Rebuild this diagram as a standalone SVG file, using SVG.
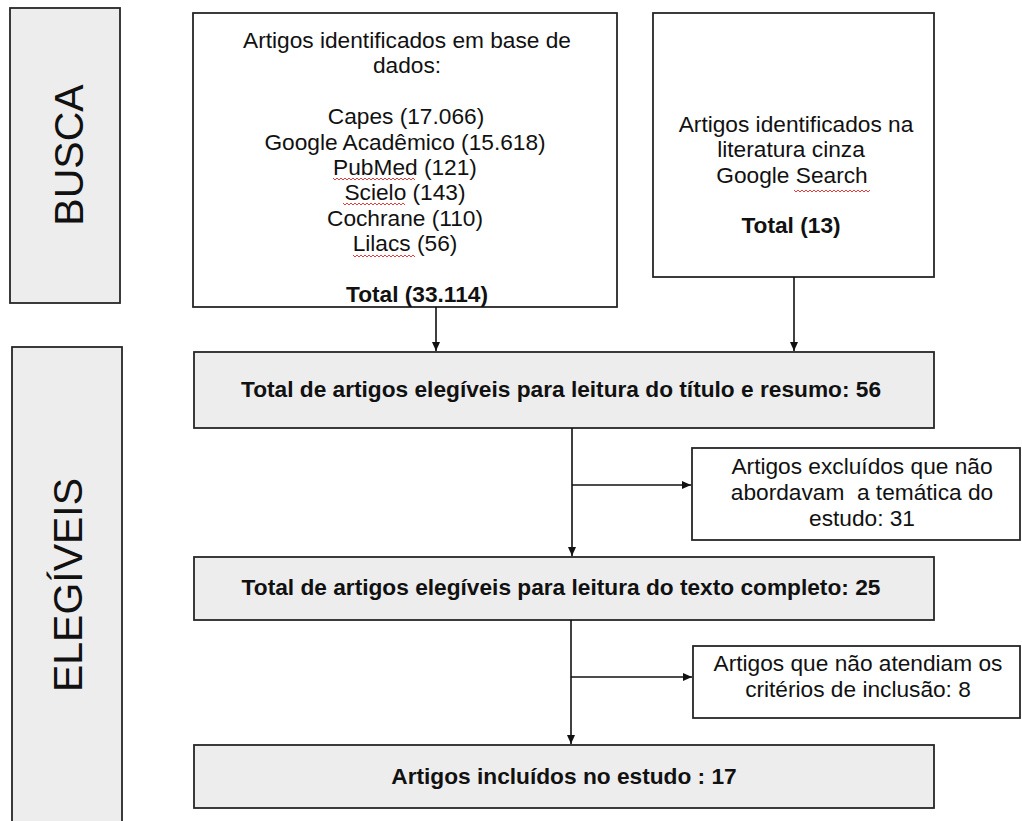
<svg xmlns="http://www.w3.org/2000/svg" width="1022" height="821" viewBox="0 0 1022 821">
<defs>
<style>
.box{stroke:#262626;stroke-width:1.8;}
.grey{fill:#EDEDED;}
.white{fill:#FFFFFF;}
.t{font-family:"Liberation Sans",Arial,sans-serif;font-size:22.7px;fill:#111;text-anchor:middle;}
.b{font-weight:bold;}
.lab{font-family:"Liberation Sans",Arial,sans-serif;font-size:41px;fill:#111;text-anchor:middle;}
.ln{stroke:#111;stroke-width:1.6;fill:none;}
.sq{stroke:#E04040;stroke-width:1;fill:none;}
</style>
<marker id="ah" markerWidth="10" markerHeight="8" refX="9" refY="4" orient="auto" markerUnits="userSpaceOnUse">
<path d="M0,0 L9,4 L0,8 Z" fill="#111"/>
</marker>
</defs>
<rect width="1022" height="821" fill="#FFFFFF"/>

<g id="busca">
<rect class="box grey" x="10" y="8" width="110" height="295"/>
<text class="lab" transform="translate(68,155) rotate(-90)" y="14.7">BUSCA</text>
</g>

<g id="elegiveis">
<rect class="box grey" x="12" y="347" width="110" height="490"/>
<text class="lab" transform="translate(67,585) rotate(-90)" y="14.7">ELEGÍVEIS</text>
</g>

<g id="bases">
<rect class="box white" x="193" y="13" width="424" height="294"/>
<text class="t" x="407" y="48">Artigos identificados em base de</text>
<text class="t" x="407" y="73.4">dados:</text>
<text class="t" x="406" y="124.2">Capes (17.066)</text>
<text class="t" x="405" y="149.6">Google Acadêmico (15.618)</text>
<text class="t" x="405" y="175">PubMed (121)</text>
<text class="t" x="405" y="200.4">Scielo (143)</text>
<text class="t" x="405" y="225.8">Cochrane (110)</text>
<text class="t" x="405" y="251.2">Lilacs (56)</text>
<text class="t b" x="417" y="302">Total (33.114)</text>
<path class="sq" d="M333,178 l2,2 l2,-2 l2,2 l2,-2 l2,2 l2,-2 l2,2 l2,-2 l2,2 l2,-2 l2,2 l2,-2 l2,2 l2,-2 l2,2 l2,-2 l2,2 l2,-2 l2,2 l2,-2 l2,2 l2,-2 l2,2 l2,-2 l2,2 l2,-2 l2,2 l2,-2 l2,2 l2,-2 l2,2 l2,-2 l2,2 l2,-2 l2,2 l2,-2 l2,2 l2,-2 l2,2 l2,-2 l2,2"/>
<path class="sq" d="M343,203 l2,2 l2,-2 l2,2 l2,-2 l2,2 l2,-2 l2,2 l2,-2 l2,2 l2,-2 l2,2 l2,-2 l2,2 l2,-2 l2,2 l2,-2 l2,2 l2,-2 l2,2 l2,-2 l2,2 l2,-2 l2,2 l2,-2 l2,2 l2,-2 l2,2 l2,-2 l2,2 l2,-2 l2,2"/>
<path class="sq" d="M353,255 l2,2 l2,-2 l2,2 l2,-2 l2,2 l2,-2 l2,2 l2,-2 l2,2 l2,-2 l2,2 l2,-2 l2,2 l2,-2 l2,2 l2,-2 l2,2 l2,-2 l2,2 l2,-2 l2,2 l2,-2 l2,2 l2,-2 l2,2 l2,-2 l2,2 l2,-2 l2,2 l2,-2 l2,2"/>
</g>

<g id="cinza">
<rect class="box white" x="653" y="13" width="281" height="264"/>
<text class="t" x="796" y="132">Artigos identificados na</text>
<text class="t" x="791" y="157.3">literatura cinza</text>
<text class="t" x="792" y="182.6">Google Search</text>
<text class="t b" x="791" y="233">Total (13)</text>
<path class="sq" d="M794,190 l2,2 l2,-2 l2,2 l2,-2 l2,2 l2,-2 l2,2 l2,-2 l2,2 l2,-2 l2,2 l2,-2 l2,2 l2,-2 l2,2 l2,-2 l2,2 l2,-2 l2,2 l2,-2 l2,2 l2,-2 l2,2 l2,-2 l2,2 l2,-2 l2,2 l2,-2 l2,2 l2,-2 l2,2 l2,-2 l2,2 l2,-2 l2,2 l2,-2 l2,2 l2,-2"/>
</g>

<g id="titulo">
<rect class="box grey" x="194" y="352" width="740" height="76"/>
<text class="t b" x="561" y="397">Total de artigos elegíveis para leitura do título e resumo: 56</text>
</g>

<g id="excluidos1">
<rect class="box white" x="692" y="448" width="328" height="92"/>
<text class="t" x="862" y="474">Artigos excluídos que não</text>
<text class="t" x="862" y="500" xml:space="preserve">abordavam  a temática do</text>
<text class="t" x="862" y="526">estudo: 31</text>
</g>

<g id="texto">
<rect class="box grey" x="194" y="557" width="740" height="63"/>
<text class="t b" x="561" y="595">Total de artigos elegíveis para leitura do texto completo: 25</text>
</g>

<g id="excluidos2">
<rect class="box white" x="693" y="646" width="327" height="72"/>
<text class="t" x="858" y="671">Artigos que não atendiam os</text>
<text class="t" x="858" y="697">critérios de inclusão: 8</text>
</g>

<g id="incluidos">
<rect class="box grey" x="194" y="745" width="740" height="63"/>
<text class="t b" x="564" y="784">Artigos incluídos no estudo : 17</text>
</g>

<g id="connectors">
<line class="ln" x1="436" y1="307" x2="436" y2="351" marker-end="url(#ah)"/>
<line class="ln" x1="794" y1="277" x2="794" y2="351" marker-end="url(#ah)"/>
<line class="ln" x1="572" y1="428" x2="572" y2="556" marker-end="url(#ah)"/>
<line class="ln" x1="572" y1="485" x2="691" y2="485" marker-end="url(#ah)"/>
<line class="ln" x1="571" y1="620" x2="571" y2="744" marker-end="url(#ah)"/>
<line class="ln" x1="571" y1="677" x2="692" y2="677" marker-end="url(#ah)"/>
</g>
</svg>
